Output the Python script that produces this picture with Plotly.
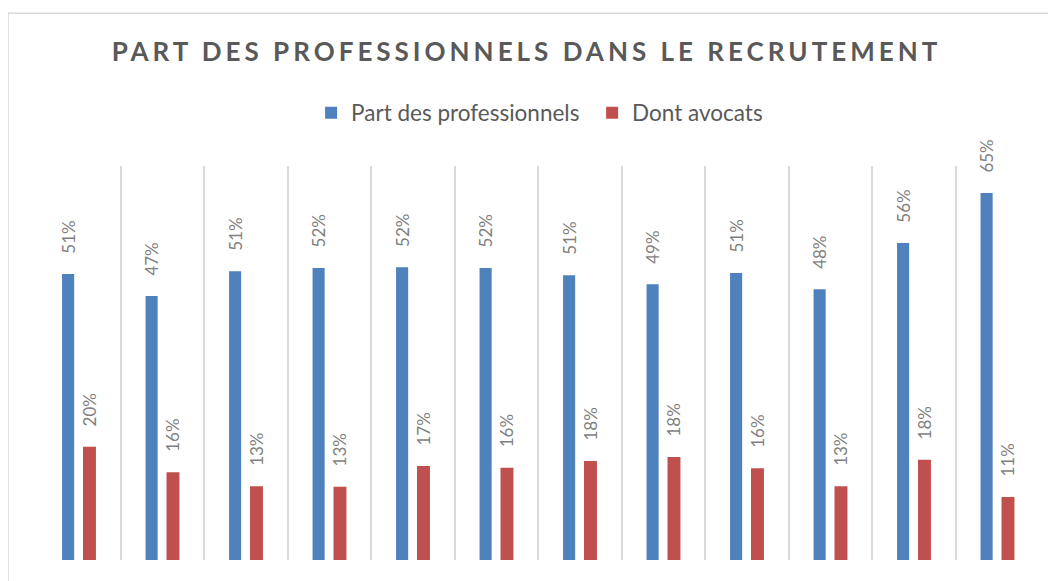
import plotly.graph_objects as go

categories = ["C1", "C2", "C3", "C4", "C5", "C6", "C7", "C8", "C9", "C10", "C11", "C12"]
part_professionnels = [0.508, 0.469, 0.513, 0.519, 0.520, 0.519, 0.506, 0.490, 0.510, 0.481, 0.563, 0.652]
dont_avocats = [0.201, 0.156, 0.131, 0.130, 0.167, 0.164, 0.176, 0.183, 0.163, 0.131, 0.178, 0.112]

title_text = "PART DES PROFESSIONNELS DANS LE RECRUTEMENT"
series_names = ["Part des professionnels", "Dont avocats"]

BLUE = "#4f81bd"
RED = "#c0504d"
GRID = "#d9d9d9"
FONT = "Lato, 'Open Sans', sans-serif"
pad = "\u00a0" * 4

fig = go.Figure()
fig.add_trace(go.Bar(
    x=categories, y=part_professionnels, name=series_names[0],
    marker=dict(color=BLUE, line=dict(width=0)),
    width=0.145, offset=-0.2,
    texttemplate=pad + "%{y:.0%}", textposition="outside", textangle=-90,
    textfont=dict(family=FONT, size=17, color="#7f7f7f"),
    constraintext="none", cliponaxis=False, hoverinfo="skip",
))
fig.add_trace(go.Bar(
    x=categories, y=dont_avocats, name=series_names[1],
    marker=dict(color=RED, line=dict(width=0)),
    width=0.155, offset=0.051,
    texttemplate=pad + "%{y:.0%}", textposition="outside", textangle=-90,
    textfont=dict(family=FONT, size=17, color="#7f7f7f"),
    constraintext="none", cliponaxis=False, hoverinfo="skip",
))

fig.update_layout(
    width=1056, height=581,
    margin=dict(l=29, r=25, t=158, b=29, pad=0),
    paper_bgcolor="white", plot_bgcolor="white",
    barmode="overlay",
    title=dict(
        text='<span style="letter-spacing:4px">' + title_text + '</span>',
        x=0.491, xanchor="center", y=1 - 44 / 581, yanchor="middle",
        font=dict(family=FONT, size=26, color="#595959", weight="bold"),
    ),
    legend=dict(
        orientation="h", x=0.554, xanchor="center", y=1 + 53 / 394, yanchor="middle",
        font=dict(family=FONT, size=22.5, color="#595959"),
        itemwidth=30, tracegroupgap=0, itemsizing="constant",
        entrywidth=236, entrywidthmode="pixels",
    ),
    xaxis=dict(
        type="category", tickson="boundaries", showgrid=True, gridcolor=GRID,
        gridwidth=1.5, showticklabels=False, ticks="", showline=False, zeroline=False,
    ),
    yaxis=dict(range=[0, 0.70], showgrid=False, showticklabels=False, zeroline=False,
               showline=False, ticks=""),
    shapes=[
        dict(type="line", xref="paper", yref="paper", x0=-0.029, x1=1.05,
             y0=1.388, y1=1.388, line=dict(color=GRID, width=1.5)),
        dict(type="line", xref="paper", yref="paper", x0=-0.029, x1=-0.029,
             y0=-0.2, y1=1.388, line=dict(color=GRID, width=1.5)),
    ],
)

fig.write_html("out.html")
